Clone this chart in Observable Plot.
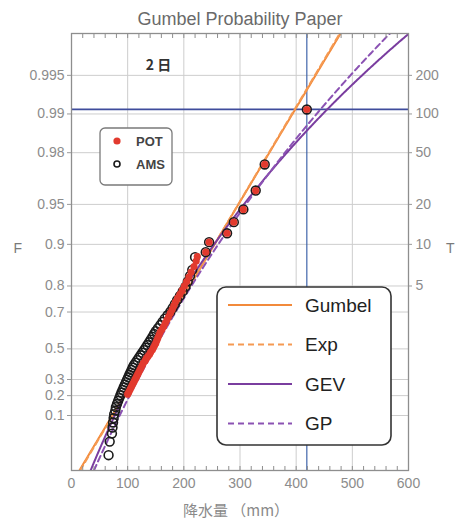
<!DOCTYPE html>
<html><head><meta charset="utf-8">
<script src="https://cdn.jsdelivr.net/npm/d3@7"></script>
<script src="https://cdn.jsdelivr.net/npm/@observablehq/plot@0.6"></script>
<style>body{margin:0;background:#fff}#chart{width:459px;height:523px}</style>
</head><body><div id="chart"></div>
<script>
// ---------- texts ----------
const titleText = "Gumbel Probability Paper";
const xAxisLabel = "降水量 （mm）";
const panelLabel = "2 日";
const leftAxisLabel = "F";
const rightAxisLabel = "T";
const seriesNames = ["Gumbel", "Exp", "GEV", "GP"];
const sampleNames = ["POT", "AMS"];

// ---------- ticks ----------
const xTickValues = [0, 100, 200, 300, 400, 500, 600];
const xGridValues = [100, 200, 300, 400, 500];
const fTickValues = [0.1, 0.2, 0.3, 0.5, 0.7, 0.8, 0.9, 0.95, 0.98, 0.99, 0.995];
const tTickValues = [5, 10, 20, 50, 100, 200];

// ---------- data: annual maximum series (mm, Gumbel reduced variate) ----------
const amsMm = [66,68,72,73,74,75,76,78,79,81,83,85,87,89,91,93,95,97,99,101,103,105,107,109,111,114,117,120,123,126,129,132,135,138,141,144,147,150,154,158,162,166,171,176,180,184,188,193,198,203,207,211,215,220,239,245,277,289,306,328,344,419];
const amsY = [-1.549,-1.304,-1.160,-1.051,-0.960,-0.881,-0.810,-0.745,-0.684,-0.627,-0.572,-0.520,-0.469,-0.420,-0.372,-0.325,-0.279,-0.234,-0.189,-0.145,-0.100,-0.057,-0.013,0.031,0.075,0.119,0.163,0.208,0.252,0.298,0.343,0.390,0.437,0.485,0.534,0.584,0.635,0.687,0.741,0.796,0.853,0.912,0.973,1.036,1.102,1.172,1.244,1.321,1.402,1.488,1.581,1.681,1.790,2.02,2.11,2.29,2.45,2.65,2.88,3.22,3.69,4.68];

// ---------- data: peaks over threshold (mm, Gumbel reduced variate) ----------
const potMm = [100,102,104,106,108,110,112,114,116,118,120,122,124,126,128,131,133,136,139,141,144,146,148,150,152,154,156,158,161,164,167,170,173,176,179,182,185,189,193,197,201,205,209,213,218,222,224,239,245,277,289,306,328,344,419];
const potY = [-0.45,-0.41,-0.37,-0.33,-0.29,-0.25,-0.21,-0.17,-0.13,-0.09,-0.05,-0.01,0.03,0.07,0.11,0.15,0.19,0.23,0.27,0.31,0.35,0.39,0.43,0.47,0.52,0.57,0.62,0.67,0.72,0.77,0.83,0.89,0.95,1.01,1.07,1.14,1.21,1.28,1.35,1.42,1.50,1.58,1.66,1.75,1.85,1.95,2.03,2.11,2.29,2.45,2.65,2.88,3.22,3.69,4.68];

// ---------- design point (blue cross lines) ----------
const designMm = 419;
const designY = 4.683;

// ---------- fitted distribution parameters ----------
const gumbelFit = {mu: 121.8, beta: 59.05};
const expFit = {mu: 122.4, beta: 58.7};
const gevFit = {mu: 117.9, sigma: 51.8, xi: 0.134};
const gpFit = {mu: 128.0, sigma: 52.8, xi: 0.10};

// ---------- helpers ----------
const reduced = F => -Math.log(-Math.log(F));
const yDomain = [-1.825, 6.05];
const fTickPos = fTickValues.map(reduced);
const tTickPos = tTickValues.map(t => reduced(1 - 1 / t));
const fLabel = new Map(fTickPos.map((v, i) => [v, String(fTickValues[i])]));
const tLabel = new Map(tTickPos.map((v, i) => [v, String(tTickValues[i])]));

const ams = amsMm.map((x, i) => ({x, y: amsY[i]}));
const pot = potMm.map((x, i) => ({x, y: potY[i]}));

const yGrid = d3.range(yDomain[0], yDomain[1] + 0.01, 0.02);
const linQ = p => y => p.mu + p.beta * y;
const gevQ = p => y => p.mu + p.sigma / p.xi * (Math.exp(p.xi * y) - 1);
const curve = q => yGrid.map(y => ({x: q(y), y}));
const curves = [
  {name: seriesNames[0], data: curve(linQ(gumbelFit)), stroke: "#f28a3b", dash: null},
  {name: seriesNames[1], data: curve(linQ(expFit)), stroke: "#f59a52", dash: "6,4"},
  {name: seriesNames[2], data: curve(gevQ(gevFit)), stroke: "#7a3d9f", dash: null},
  {name: seriesNames[3], data: curve(gevQ(gpFit)), stroke: "#8b52b3", dash: "6,4"}
];

const font = "'Liberation Sans', Arial, Helvetica, sans-serif";
const cjk = "'Noto Sans CJK JP', 'Noto Sans CJK SC', sans-serif";

const plot = Plot.plot({
  width: 459, height: 523,
  marginLeft: 71, marginRight: 51, marginTop: 33, marginBottom: 53,
  style: {fontFamily: font, background: "#fff", overflow: "visible"},
  x: {domain: [0, 600], label: null},
  y: {domain: yDomain, label: null},
  marks: [
    Plot.gridX(xGridValues, {stroke: "#cdcdcd", strokeOpacity: 1, strokeWidth: 1}),
    Plot.gridY(fTickPos, {stroke: "#cdcdcd", strokeOpacity: 1, strokeWidth: 1}),
    Plot.ruleY([designY], {stroke: "#3f4c9c", strokeWidth: 1.6}),
    Plot.ruleX([designMm], {stroke: "#2f57a3", strokeWidth: 1.1}),
    ...curves.map(c => Plot.line(c.data, {x: "x", y: "y", stroke: c.stroke, strokeWidth: 2, strokeDasharray: c.dash, clip: true})),
    Plot.dot(ams, {x: "x", y: "y", r: 4.4, fill: "none", stroke: "#1b1b1b", strokeWidth: 1.6}),
    Plot.dot(pot, {x: "x", y: "y", r: 3.6, fill: "#e23a2e", stroke: "none"}),
    Plot.frame({stroke: "#8e8e8e", strokeWidth: 1.3}),
    Plot.axisX(xTickValues, {anchor: "bottom", tickSize: 0, tickPadding: 8, fontSize: 14, fill: "#8c8c8c", tickFormat: d => String(d)}),
    Plot.axisX(d3.range(0, 601, 20), {anchor: "bottom", tickSize: 4, dy: -4, stroke: "#8e8e8e", tickFormat: () => ""}),
    Plot.axisX(d3.range(0, 601, 20), {anchor: "top", tickSize: 4, dy: 4, stroke: "#8e8e8e", tickFormat: () => ""}),
    Plot.axisY(fTickPos, {anchor: "left", tickSize: 4, tickPadding: 3, fontSize: 14, fill: "#8c8c8c", stroke: "#9a9a9a", tickFormat: v => fLabel.get(v)}),
    Plot.axisY(tTickPos, {anchor: "right", tickSize: 3, tickPadding: 4, fontSize: 14, fill: "#8c8c8c", stroke: "#9a9a9a", tickFormat: v => tLabel.get(v)}),
    Plot.text([titleText], {frameAnchor: "top", lineAnchor: "middle", dy: -14, fontSize: 18, fill: "#6a6a6a"}),
    Plot.text([leftAxisLabel], {frameAnchor: "left", lineAnchor: "middle", dx: -58, dy: -3, fontSize: 14, fill: "#7a7a7a"}),
    Plot.text([rightAxisLabel], {frameAnchor: "right", lineAnchor: "middle", dx: 46, dy: -3, fontSize: 14, fill: "#7a7a7a"}),
    Plot.text([xAxisLabel], {frameAnchor: "bottom", lineAnchor: "middle", dy: 41, dx: -4, fontSize: 15, fill: "#8a8a8a", fontFamily: cjk}),
    Plot.text([panelLabel], {frameAnchor: "top-left", lineAnchor: "middle", textAnchor: "middle", dx: 87, dy: 32, fontSize: 14, fontWeight: "bold", fill: "#333", fontFamily: cjk})
  ]
});
document.getElementById("chart").appendChild(plot);

// ---------- legends ----------
const svg = d3.select(plot);
// sample legend
const g1 = svg.append("g").attr("text-anchor", "start");
g1.append("rect").attr("x", 100).attr("y", 128).attr("width", 72).attr("height", 57).attr("rx", 5)
  .attr("fill", "#fff").attr("stroke", "#7a7a7a").attr("stroke-width", 1.3);
g1.append("circle").attr("cx", 117).attr("cy", 141).attr("r", 3.6).attr("fill", "#e23a2e");
g1.append("circle").attr("cx", 117).attr("cy", 164).attr("r", 3).attr("fill", "none").attr("stroke", "#1b1b1b").attr("stroke-width", 1.6);
sampleNames.forEach((n, i) => {
  g1.append("text").attr("x", 136).attr("y", 141 + i * 23).attr("dy", "0.35em").attr("text-anchor", "start")
    .attr("font-family", font).attr("font-size", 13).attr("font-weight", "bold").attr("fill", "#444").text(n);
});
// model legend
const g2 = svg.append("g").attr("text-anchor", "start");
g2.append("rect").attr("x", 217).attr("y", 287).attr("width", 174).attr("height", 158).attr("rx", 9)
  .attr("fill", "#fff").attr("stroke", "#333").attr("stroke-width", 1.6);
curves.forEach((c, i) => {
  const yy = 305 + i * 39.5;
  g2.append("line").attr("x1", 228).attr("x2", 292).attr("y1", yy).attr("y2", yy)
    .attr("stroke", c.stroke).attr("stroke-width", 2).attr("stroke-dasharray", c.dash);
  g2.append("text").attr("x", 305).attr("y", yy).attr("dy", "0.35em").attr("text-anchor", "start")
    .attr("font-family", font).attr("font-size", 19).attr("fill", "#222").text(c.name);
});
</script>
</body></html>
